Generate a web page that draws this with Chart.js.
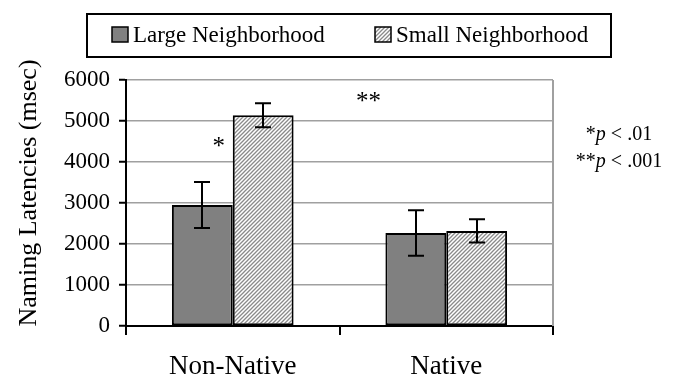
<!DOCTYPE html>
<html>
<head>
<meta charset="utf-8">
<script src="https://cdn.jsdelivr.net/npm/chart.js@4"></script>
<style>
  html, body { margin: 0; padding: 0; background: #fff; }
  #wrap { width: 682px; height: 378px; position: relative; }
</style>
</head>
<body>
<div id="wrap"><canvas id="c" width="682" height="378"></canvas></div>
<script>
// ---- Data ----
const categories = ['Non-Native', 'Native'];
const seriesNames = ['Large Neighborhood', 'Small Neighborhood'];
const largeMeans = [2950, 2270];
const smallMeans = [5140, 2320];
const largeErr = [560, 555];
const smallErr = [295, 285];
const yTicks = [0, 1000, 2000, 3000, 4000, 5000, 6000];
const yTitle = 'Naming Latencies (msec)';
const sigNotes = [['*', ' < .01'], ['**', ' < .001']];

const FONT = "'Liberation Serif', 'Times New Roman', serif";

// hatch pattern
function makeHatch() {
  const s = 4;
  const pc = document.createElement('canvas');
  pc.width = s; pc.height = s;
  const p = pc.getContext('2d');
  p.fillStyle = '#ffffff';
  p.fillRect(0, 0, s, s);
  p.strokeStyle = '#8a8a8a';
  p.lineWidth = 1.3;
  p.beginPath();
  p.moveTo(-1, s + 1); p.lineTo(s + 1, -1);
  p.moveTo(-1, 1); p.lineTo(1, -1);
  p.moveTo(s - 1, s + 1); p.lineTo(s + 1, s - 1);
  p.stroke();
  return document.getElementById('c').getContext('2d').createPattern(pc, 'repeat');
}
const hatch = makeHatch();

const errs = [largeErr, smallErr];

const errorBarPlugin = {
  id: 'errorBars',
  afterDatasetsDraw(chart) {
    const ctx = chart.ctx;
    const y = chart.scales.y;
    ctx.save();
    ctx.strokeStyle = '#000';
    ctx.lineWidth = 2;
    chart.data.datasets.forEach((ds, di) => {
      const meta = chart.getDatasetMeta(di);
      meta.data.forEach((bar, i) => {
        const v = ds.data[i], e = errs[di][i];
        const x = Math.round(bar.x);
        const yt = y.getPixelForValue(v + e), yb = y.getPixelForValue(v - e);
        ctx.beginPath();
        ctx.moveTo(x, yt); ctx.lineTo(x, yb);
        ctx.moveTo(x - 8, yt); ctx.lineTo(x + 8, yt);
        ctx.moveTo(x - 8, yb); ctx.lineTo(x + 8, yb);
        ctx.stroke();
      });
    });
    ctx.restore();
  }
};

const framePlugin = {
  id: 'frame',
  beforeDatasetsDraw(chart) {
    const ctx = chart.ctx, a = chart.chartArea;
    ctx.save();
    ctx.strokeStyle = '#a0a0a0';
    ctx.lineWidth = 2;
    ctx.beginPath();
    ctx.moveTo(a.right, a.top); ctx.lineTo(a.right, a.bottom);
    ctx.stroke();
    ctx.restore();
  }
};

const annotPlugin = {
  id: 'annot',
  afterDraw(chart) {
    const ctx = chart.ctx;
    const xs = chart.scales.x, ys = chart.scales.y, a = chart.chartArea;
    ctx.save();
    ctx.fillStyle = '#000';

    // y-axis title
    ctx.save();
    ctx.translate(29, 193);
    ctx.rotate(-Math.PI / 2);
    ctx.textAlign = 'center';
    ctx.textBaseline = 'middle';
    ctx.font = '26px ' + FONT;
    ctx.fillText(yTitle, 0, 0);
    ctx.restore();

    ctx.textBaseline = 'alphabetic';
    ctx.textAlign = 'center';
    ctx.font = '25px ' + FONT;
    // single star within Non-Native
    ctx.fillText('*', xs.getPixelForValue(0) - 14, ys.getPixelForValue(4500) + 12);
    // double star between groups
    const mid = (xs.getPixelForValue(0) + xs.getPixelForValue(1)) / 2;
    ctx.fillText('**', mid + 29, ys.getPixelForValue(5580) + 12);

    // significance notes on the right
    const cx = a.right + 66;
    const y0 = a.top + 60;
    sigNotes.forEach((n, k) => {
      const yy = y0 + k * 27;
      ctx.font = '20px ' + FONT;
      const w1 = ctx.measureText(n[0]).width;
      const w3 = ctx.measureText(n[1]).width;
      ctx.font = 'italic 20px ' + FONT;
      const w2 = ctx.measureText('p').width;
      let x = cx - (w1 + w2 + w3) / 2;
      ctx.textAlign = 'left';
      ctx.font = '20px ' + FONT;
      ctx.fillText(n[0], x, yy); x += w1;
      ctx.font = 'italic 20px ' + FONT;
      ctx.fillText('p', x, yy); x += w2;
      ctx.font = '20px ' + FONT;
      ctx.fillText(n[1], x, yy);
    });

    // legend box
    ctx.lineWidth = 2;
    ctx.strokeStyle = '#000';
    ctx.strokeRect(87, 14, 524, 43);
    ctx.font = '23px ' + FONT;
    ctx.textBaseline = 'middle';
    ctx.textAlign = 'left';
    const items = [112, 375];
    chart.data.datasets.forEach((ds, i) => {
      const sx = items[i];
      ctx.fillStyle = ds.backgroundColor;
      ctx.fillRect(sx, 27, 16, 15);
      ctx.lineWidth = 1.5;
      ctx.strokeRect(sx, 27, 16, 15);
      ctx.fillStyle = '#000';
      ctx.fillText(ds.label, sx + 21, 36);
    });
    ctx.restore();
  }
};

new Chart(document.getElementById('c'), {
  type: 'bar',
  data: {
    labels: categories,
    datasets: [
      { label: seriesNames[0], data: largeMeans, backgroundColor: '#808080',
        borderColor: '#000', borderWidth: 2, borderSkipped: false },
      { label: seriesNames[1], data: smallMeans, backgroundColor: hatch,
        borderColor: '#000', borderWidth: 2, borderSkipped: false }
    ]
  },
  options: {
    responsive: false,
    animation: false,
    devicePixelRatio: 1,
    layout: { padding: { left: 0, right: 129, top: 80, bottom: 0 } },
    plugins: { legend: { display: false }, tooltip: { enabled: false } },
    datasets: { bar: { categoryPercentage: 0.57, barPercentage: 1.0 } },
    scales: {
      x: {
        offset: true,
        grid: { display: true, drawOnChartArea: false, offset: true, color: '#000', lineWidth: 2, tickLength: 9 },
        border: { display: true, color: '#000', width: 2 },
        ticks: { color: '#000', font: { family: FONT, size: 27 }, padding: 16 },
        afterFit(s) { s.height = 52; }
      },
      y: {
        min: 0, max: 6000,
        afterBuildTicks(s) { s.ticks = yTicks.map(v => ({ value: v })); },
        grid: { color: '#a0a0a0', lineWidth: 1.5, tickColor: '#000', tickLength: 7, tickWidth: 2 },
        border: { display: true, color: '#000', width: 2 },
        ticks: { color: '#000', font: { family: FONT, size: 23 }, padding: 9, callback: v => String(v) },
        title: { display: false },
        afterFit(s) { s.width = 126; }
      }
    }
  },
  plugins: [framePlugin, errorBarPlugin, annotPlugin]
});
</script>
</body>
</html>
